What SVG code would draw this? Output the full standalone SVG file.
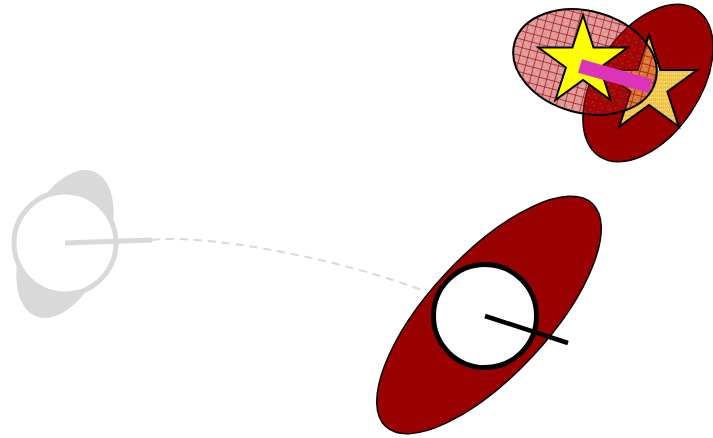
<svg xmlns="http://www.w3.org/2000/svg" width="713" height="438" viewBox="0 0 713 438">
  <style>
    .ghost { fill: #d9d9d9; stroke: none; }
    .ghost-ring { fill: #ffffff; stroke: #d9d9d9; stroke-width: 5; }
    .ghost-line { stroke: #d9d9d9; stroke-width: 5; fill: none; }
    .blob { fill: #990000; stroke: #000000; stroke-width: 1.5; }
    .ring { fill: #ffffff; stroke: #000000; stroke-width: 5; }
    .arm { stroke: #000000; stroke-width: 4.5; fill: none; }
    .star { stroke: #000000; stroke-width: 2; stroke-linejoin: miter; }
    .dash { fill: none; stroke: #d9d9d9; stroke-width: 2; stroke-dasharray: 8 6; }
  </style>
  <defs>
    <pattern id="grid" width="8" height="8" patternUnits="userSpaceOnUse">
      <rect width="8" height="8" fill="rgba(180,20,20,0.42)"/>
      <rect x="2" y="2" width="1" height="1" fill="rgba(255,255,255,0.25)"/>
      <rect x="5" y="5" width="1" height="1" fill="rgba(255,255,255,0.25)"/>
      <rect x="2" y="5" width="1" height="1" fill="rgba(150,0,0,0.2)"/>
      <rect x="5" y="2" width="1" height="1" fill="rgba(150,0,0,0.2)"/>
      <rect x="0" y="0" width="8" height="1" fill="rgba(160,0,0,0.65)"/>
      <rect x="0" y="0" width="1" height="8" fill="rgba(160,0,0,0.65)"/>
    </pattern>
    <pattern id="dots" width="4" height="4" patternUnits="userSpaceOnUse">
      <rect width="4" height="4" fill="#efc44a"/>
      <rect x="0" y="1" width="1" height="1" fill="#fbe68e"/>
      <rect x="2" y="1" width="1" height="1" fill="#fbe68e"/>
    </pattern>
  </defs>

  <g id="connectors">
    <path class="dash" d="M152,240 C200,234 330,255 427,292"/>
  </g>

  <g id="node-ghost">
    <ellipse class="ghost" cx="65" cy="244" rx="78" ry="42" transform="rotate(-68 65 244)"/>
    <circle class="ghost-ring" cx="65" cy="243" r="51"/>
    <line class="ghost-line" x1="65" y1="243" x2="152" y2="240"/>
  </g>

  <g id="node-target">
    <ellipse class="blob" cx="489" cy="315" rx="152" ry="60" transform="rotate(-47.2 489 315)"/>
    <circle class="ring" cx="485" cy="316" r="51.5"/>
    <line class="arm" x1="485" y1="316" x2="568" y2="343"/>
  </g>

  <g id="node-cluster">
    <ellipse id="big-ellipse" class="blob" cx="648" cy="83" rx="88" ry="52" transform="rotate(-56.5 648 83)"/>
    <polygon id="star-back" class="star" fill="url(#dots)" points="649,35 660.36,69.96 697.12,69.96 667.38,91.57 678.74,126.54 649,104.93 619.26,126.54 630.62,91.57 600.88,69.96 637.64,69.96"/>
    <ellipse id="grid-ellipse" cx="585" cy="62" rx="73" ry="51" transform="rotate(15 585 62)" fill="url(#grid)" stroke="#000000" stroke-width="2"/>
    <polygon id="star-front" class="star" fill="#ffff00" points="583,15 593.55,47.48 627.70,47.48 600.07,67.55 610.63,100.02 583,79.95 555.37,100.02 565.93,67.55 538.30,47.48 572.45,47.48"/>
    <line id="bar" x1="580" y1="66" x2="650.5" y2="86" stroke="#dd33bb" stroke-width="14"/>
  </g>
</svg>
